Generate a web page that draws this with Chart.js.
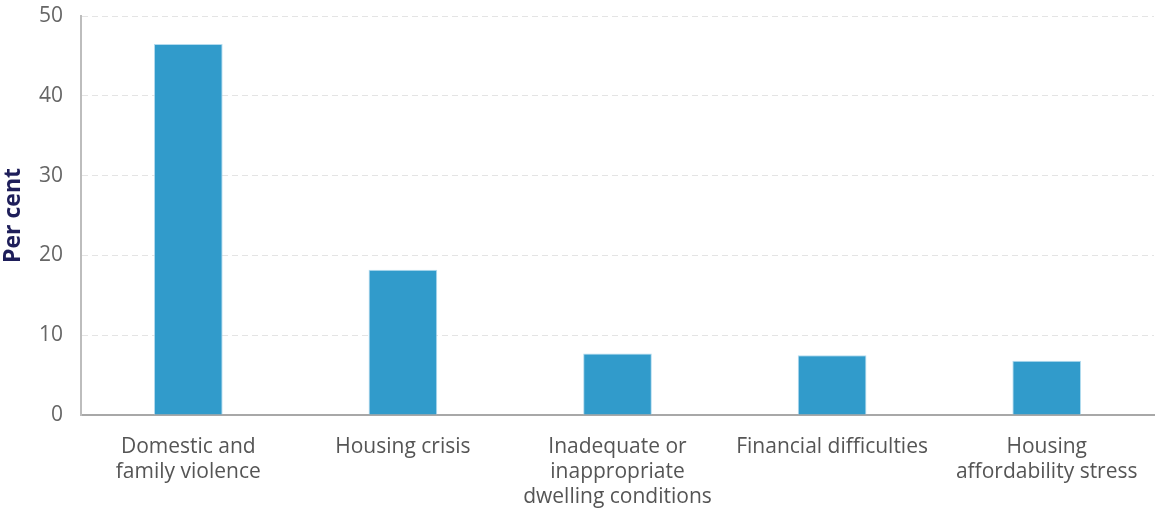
<!DOCTYPE html>
<html>
<head>
<meta charset="utf-8">
<script src="https://cdn.jsdelivr.net/npm/chart.js@4/dist/chart.umd.min.js"></script>
<style>
html,body{margin:0;padding:0;background:#fff;}
#wrap{width:1158px;height:514px;position:relative;}
</style>
</head>
<body>
<div id="wrap"><canvas id="c"></canvas></div>
<script>
const categories = [
  ["Domestic and", "family violence"],
  ["Housing crisis"],
  ["Inadequate or", "inappropriate", "dwelling conditions"],
  ["Financial difficulties"],
  ["Housing", "affordability stress"]
];
const values = [46.5, 18.2, 7.7, 7.5, 6.8];
const yTicks = [0, 10, 20, 30, 40, 50];
const yTitle = "Per cent";

new Chart(document.getElementById('c'), {
  type: 'bar',
  data: {
    labels: categories,
    datasets: [{
      data: values,
      backgroundColor: '#319bcb',
      borderColor: 'rgba(160,210,235,0.8)',
      borderWidth: 1,
      barPercentage: 0.32,
      categoryPercentage: 1
    }]
  },
  options: {
    responsive: true,
    maintainAspectRatio: false,
    animation: false,
    layout: { padding: { top: 16, right: 4, left: 0, bottom: 0 } },
    plugins: { legend: { display: false }, tooltip: { enabled: false } },
    scales: {
      x: {
        grid: { display: false, drawTicks: false },
        border: { color: '#a8a8a8', width: 2 },
        ticks: {
          color: '#555',
          font: { family: 'Open Sans', size: 21, lineHeight: 1.19 },
          padding: 20,
          maxRotation: 0,
          autoSkip: false
        },
        afterFit: s => { s.height = 99; s.paddingLeft = 0; s.paddingRight = 0; }
      },
      y: {
        min: 0, max: 50,
        afterBuildTicks: s => { s.ticks = yTicks.map(v => ({ value: v })); },
        grid: { color: '#e4e4e4', drawTicks: false },
        border: { color: '#bdbdbd', width: 2, dash: [6, 4], display: true },
        ticks: {
          color: '#666',
          font: { family: 'Open Sans', size: 21 },
          padding: 18
        },
        title: {
          display: true,
          text: yTitle,
          color: '#1e1e5a',
          font: { family: 'Open Sans', size: 23, weight: 'bold' },
          padding: { top: 0, bottom: 4 }
        },
        afterFit: s => { s.width = 81; s.paddingTop = 0; s.paddingBottom = 0; }
      }
    }
  }
});
</script>
</body>
</html>
